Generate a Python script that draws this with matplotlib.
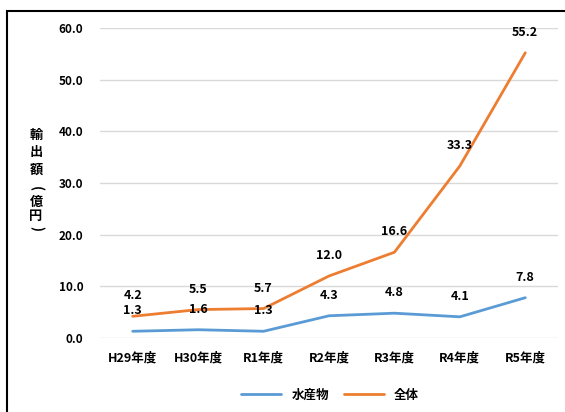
import matplotlib
matplotlib.use("Agg")
import matplotlib.pyplot as plt
from matplotlib.patches import Rectangle

plt.rcParams['font.family'] = ['Noto Sans CJK JP', 'DejaVu Sans']

# Data
years = ['H29年度', 'H30年度', 'R1年度', 'R2年度', 'R3年度', 'R4年度', 'R5年度']
fishery = [1.3, 1.6, 1.3, 4.3, 4.8, 4.1, 7.8]
total = [4.2, 5.5, 5.7, 12.0, 16.6, 33.3, 55.2]
yticks = [0, 10, 20, 30, 40, 50, 60]

blue = '#5B9BD5'
orange = '#ED7D31'

fig = plt.figure(figsize=(5.65, 4.12), dpi=100)
ax = fig.add_axes([100 / 565, 1 - 338 / 412, 458 / 565, 310 / 412])

x = list(range(len(years)))
ax.plot(x, fishery, color=blue, lw=2, label='水産物', solid_capstyle='round')
ax.plot(x, total, color=orange, lw=2, label='全体', solid_capstyle='round')

for xi, v in zip(x, fishery):
    ax.annotate(f'{v:.1f}', (xi, v), xytext=(0, 10), textcoords='offset points',
                ha='center', va='bottom', fontsize=9, fontweight='bold')
for xi, v in zip(x, total):
    ax.annotate(f'{v:.1f}', (xi, v), xytext=(0, 10), textcoords='offset points',
                ha='center', va='bottom', fontsize=9, fontweight='bold')

ax.set_xlim(-0.5, len(years) - 0.5)
ax.set_ylim(0, 60)
ax.set_yticks(yticks)
ax.set_yticklabels([f'{t:.1f}' for t in yticks], fontsize=8.5, fontweight='bold')
ax.set_xticks(x)
ax.set_xticklabels(years, fontsize=9, fontweight='bold')
ax.tick_params(length=0, pad=10)
ax.tick_params(axis='y', pad=12)
ax.grid(axis='y', color='#D9D9D9', lw=1)
ax.set_axisbelow(True)
for s in ax.spines.values():
    s.set_visible(False)

# vertical stacked y label: 輸出額（億円）
label_chars = ['輸', '出', '額', '(', '億', '円', ')']
label_y = [135, 152, 170, 188, 202, 216, 229]
for ch, yy in zip(label_chars, label_y):
    rot = -90 if ch in '()' else 0
    fig.text(36 / 565, 1 - yy / 412, ch, ha='center', va='center', rotation=rot,
             fontsize=9.5, fontweight='bold')

leg = fig.legend(loc='center', bbox_to_anchor=(330 / 565, 1 - 395 / 412), ncol=2,
                 frameon=False, handlelength=3.2, columnspacing=1.2,
                 prop={'weight': 'bold', 'size': 9})

# outer border
fig.patches.append(Rectangle((7 / 565, -0.05), 1.1, 1 - 11 / 412 + 0.05,
                             transform=fig.transFigure, fill=False, ec='black', lw=1.5))

fig.savefig('out.png', dpi=100)
